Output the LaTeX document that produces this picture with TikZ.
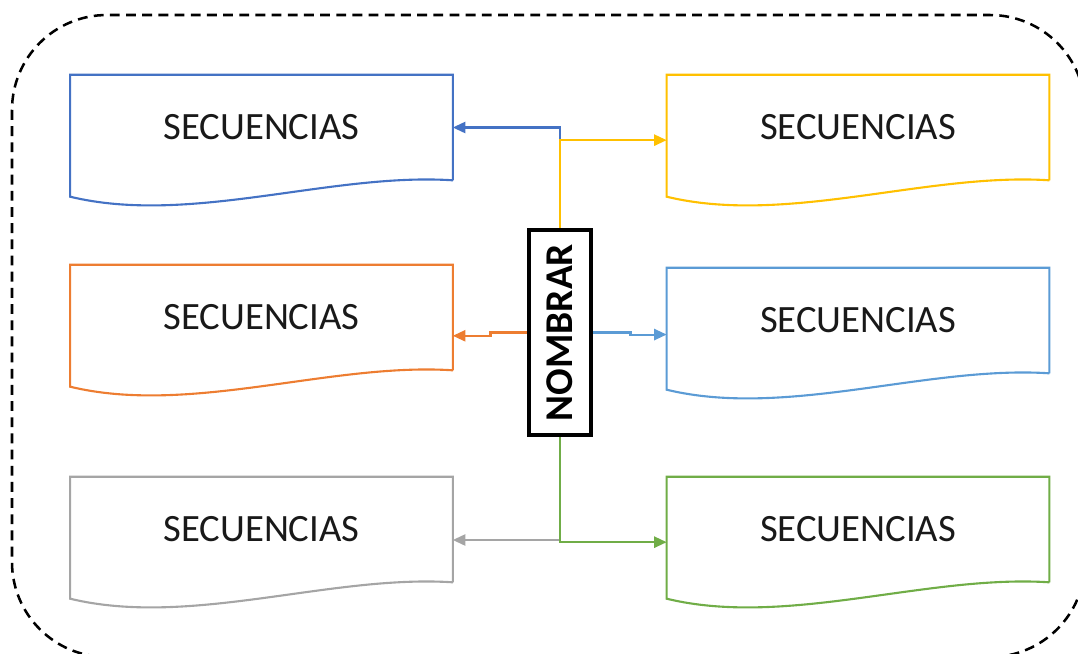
\documentclass[tikz,border=0pt]{standalone}
\usepackage{fontspec}
\setmainfont{Carlito}
\usepackage{xcolor}
\usetikzlibrary{arrows.meta}

\definecolor{docblue}{RGB}{68,114,196}
\definecolor{docyellow}{RGB}{255,192,0}
\definecolor{docorange}{RGB}{237,125,49}
\definecolor{docsky}{RGB}{91,155,213}
\definecolor{docgray}{RGB}{165,165,165}
\definecolor{docgreen}{RGB}{112,173,71}

\tikzset{
  doc/.style={minimum width=9.55cm, minimum height=2.625cm, inner sep=0pt,
    text=black!90, font=\fontsize{27.5}{30}\selectfont},
  nbox/.style={draw, line width=3.5pt, minimum width=1.55cm, minimum height=5.125cm,
    inner sep=0pt, font=\bfseries\fontsize{28}{30}\selectfont},
  link/.style={line width=1.5pt, -{Triangle[length=9pt,width=8pt]}},
}

% document outline: straight top and sides, wavy bottom
\newcommand{\docshape}[2]{%
  \draw[#2, line width=1.5pt] (#1.south east) -- (#1.north east) -- (#1.north west) -- ++(0,122)
    .. controls +(120,29) and +(-122,-8) .. (#1.south east);
}

\begin{document}
\begin{tikzpicture}[x=0.025cm, y=-0.025cm]
\useasboundingbox (0,0) rectangle (1078,653);
\clip (0,0) rectangle (1078,653);

\draw[line width=1.8pt, dash pattern=on 7pt off 4.5pt, rounded corners=2.375cm]
  (12,15) rectangle (1085,657);

\node[doc] (s1) at (261.5,127.5) {SECUENCIAS};
\node[doc] (s2) at (858,127.5) {SECUENCIAS};
\node[doc] (s3) at (261.5,317.5) {SECUENCIAS};
\node[doc] (s4) at (858,320.5) {SECUENCIAS};
\node[doc] (s5) at (261.5,529.5) {SECUENCIAS};
\node[doc] (s6) at (858,529.5) {SECUENCIAS};

\docshape{s1}{docblue}
\docshape{s2}{docyellow}
\docshape{s3}{docorange}
\docshape{s4}{docsky}
\docshape{s5}{docgray}
\docshape{s6}{docgreen}

\node[nbox] (nom) at (560,332.5) {\rotatebox{90}{NOMBRAR}};

\draw[link, docblue] (nom.north) |- (s1.east);
\draw[link, docyellow] (nom.north) |- ([yshift=-9pt]s2.west);
\draw[link, docorange] (nom.west) -- ++(-36,0) |- ([yshift=-13pt]s3.east);
\draw[link, docsky] (nom.east) -- ++(37,0) |- ([yshift=-10pt]s4.west);
\coordinate (g) at (560,540);
\draw[link, docgray] (g) -- (g -| s5.east);
\draw[link, docgreen] (nom.south) |- ([yshift=-9pt]s6.west);
\end{tikzpicture}
\end{document}
